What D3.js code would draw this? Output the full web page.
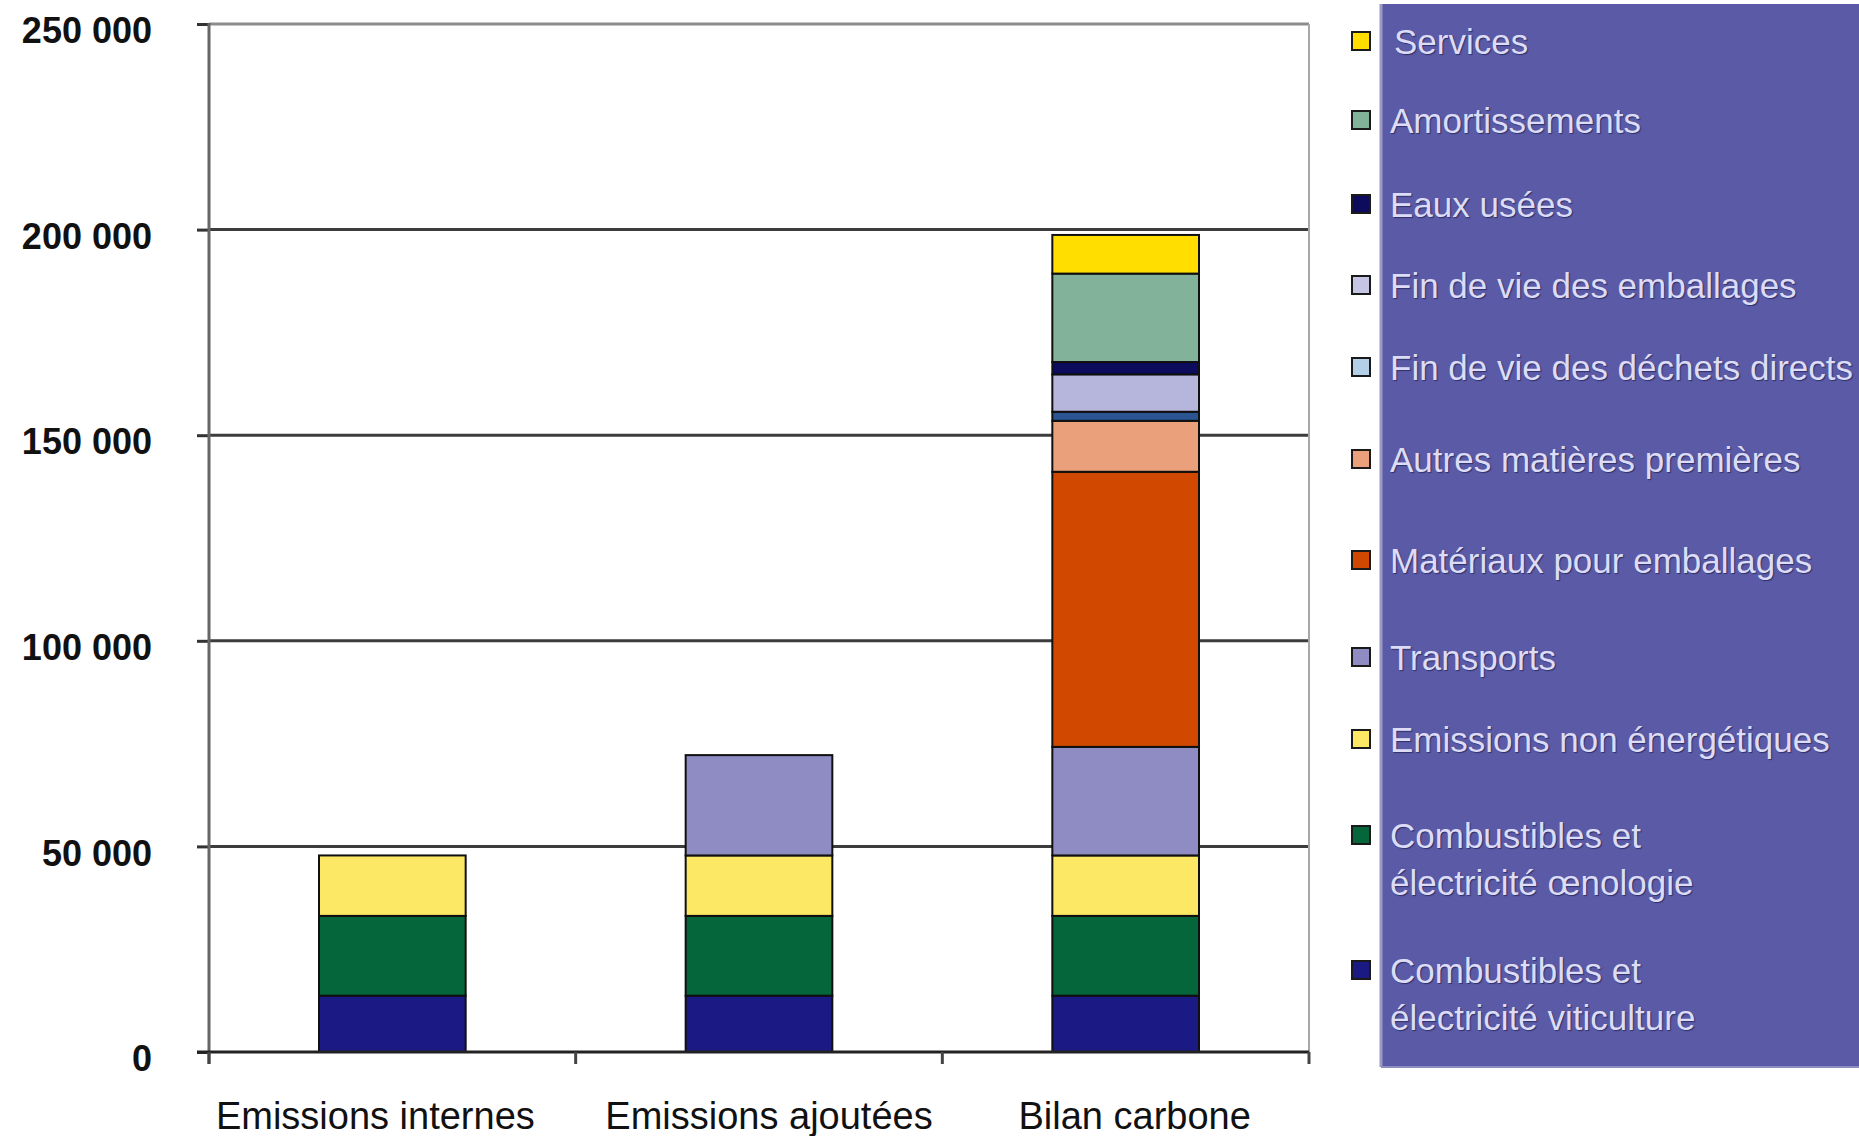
<!DOCTYPE html>
<html>
<head>
<meta charset="utf-8">
<script src="https://cdn.jsdelivr.net/npm/d3@7/dist/d3.min.js"></script>
<style>
  html, body { margin: 0; padding: 0; background: #ffffff; }
  svg { display: block; }
</style>
</head>
<body>
<script>
// ---------- DATA ----------
const categories = ["Emissions internes", "Emissions ajoutées", "Bilan carbone"];

// stacking order: bottom -> top
const seriesNames = [
  "Combustibles et\nélectricité viticulture",
  "Combustibles et\nélectricité œnologie",
  "Emissions non énergétiques",
  "Transports",
  "Matériaux pour emballages",
  "Autres matières premières",
  "Fin de vie des déchets directs",
  "Fin de vie des emballages",
  "Eaux usées",
  "Amortissements",
  "Services"
];

const combViticulture   = [13700, 13700, 13700];
const combOenologie     = [19400, 19400, 19400];
const emissionsNonEnerg = [14700, 14700, 14700];
const transports        = [0, 24400, 26400];
const materiauxEmball   = [0, 0, 66900];
const autresMatieres    = [0, 0, 12400];
const finVieDechets     = [0, 0, 2200];
const finVieEmball      = [0, 0, 9100];
const eauxUsees         = [0, 0, 3000];
const amortissements    = [0, 0, 21500];
const services          = [0, 0, 9400];

const seriesValues = [
  combViticulture, combOenologie, emissionsNonEnerg, transports, materiauxEmball,
  autresMatieres, finVieDechets, finVieEmball, eauxUsees, amortissements, services
];

// bar fills
const seriesColors = [
  "#1b1a84", "#04663a", "#fde866", "#8f8bc3", "#d14800",
  "#e9a07b", "#2a5592", "#b6b5dc", "#0c0b5c", "#82b39a", "#ffde00"
];
// legend swatches
const legendColors = [
  "#1b1a84", "#04663a", "#fde866", "#8f8bc3", "#d14800",
  "#e9a07b", "#b4d0e8", "#c6c5e4", "#0c0b5c", "#82b39a", "#ffde00"
];

const yTicks = [0, 50000, 100000, 150000, 200000, 250000];
const yTickLabels = ["0", "50 000", "100 000", "150 000", "200 000", "250 000"];

// ---------- LAYOUT ----------
const W = 1859, H = 1136;
const plot = { left: 209, right: 1309, top: 24, bottom: 1052 };
const legendBox = { x: 1381, y: 4, w: 478, h: 1063 };
const legendRowY = [41, 120, 204, 285, 367, 459, 560, 657, 739, 835, 970]; // top->bottom rows
const legendLineGap = 47;
const xLabelShift = [-17, 10, 9];

const svg = d3.select("body").append("svg")
  .attr("width", W).attr("height", H)
  .style("font-family", "'Liberation Sans', Arial, sans-serif");

svg.append("rect").attr("width", W).attr("height", H).attr("fill", "#fff");

const y = d3.scaleLinear().domain([0, 250000]).range([plot.bottom, plot.top]);
const x = d3.scaleBand().domain(categories).range([plot.left, plot.right])
  .paddingInner(0.6).paddingOuter(0.3);

// table for the stack
const table = categories.map((c, i) => {
  const row = { category: c };
  seriesNames.forEach((s, k) => { row[s] = seriesValues[k][i]; });
  return row;
});
const stacked = d3.stack().keys(seriesNames)(table);

// gridlines
svg.append("g").selectAll("line")
  .data(yTicks.filter(t => t > 0 && t < 250000))
  .join("line")
  .attr("x1", plot.left).attr("x2", plot.right)
  .attr("y1", d => y(d)).attr("y2", d => y(d))
  .attr("stroke", "#3c3c3c").attr("stroke-width", 3);

// top border
svg.append("line")
  .attr("x1", plot.left).attr("x2", plot.right)
  .attr("y1", y(250000)).attr("y2", y(250000))
  .attr("stroke", "#8c8c8c").attr("stroke-width", 3);
// right border
svg.append("line")
  .attr("x1", plot.right).attr("x2", plot.right)
  .attr("y1", y(250000)).attr("y2", y(0))
  .attr("stroke", "#a8a8a8").attr("stroke-width", 2);

// bars
const layers = svg.append("g").selectAll("g")
  .data(stacked).join("g")
  .attr("fill", (d, i) => seriesColors[i]);
layers.selectAll("rect")
  .data(d => d.map((v, i) => ({ v, cat: categories[i] })).filter(o => o.v[1] - o.v[0] > 0))
  .join("rect")
  .attr("x", o => x(o.cat))
  .attr("width", x.bandwidth())
  .attr("y", o => y(o.v[1]))
  .attr("height", o => y(o.v[0]) - y(o.v[1]))
  .attr("stroke", "#101010")
  .attr("stroke-width", 2);

// y axis
const yAxis = d3.axisLeft(y)
  .tickValues(yTicks)
  .tickFormat((d, i) => yTickLabels[i])
  .tickSize(12)
  .tickPadding(45);
const gy = svg.append("g").attr("transform", `translate(${plot.left},0)`).call(yAxis);
gy.select(".domain").remove();
gy.selectAll(".tick line").attr("stroke", "#333").attr("stroke-width", 3);
gy.selectAll(".tick text")
  .attr("fill", "#111")
  .attr("font-size", 36)
  .attr("font-weight", "bold")
  .attr("dy", "0.52em");

// y axis line
svg.append("line")
  .attr("x1", plot.left).attr("x2", plot.left)
  .attr("y1", y(250000) - 1).attr("y2", y(0) + 12)
  .attr("stroke", "#666").attr("stroke-width", 3);

// baseline
svg.append("line")
  .attr("x1", plot.left - 12).attr("x2", plot.right)
  .attr("y1", y(0)).attr("y2", y(0))
  .attr("stroke", "#222").attr("stroke-width", 3);

// x ticks at category boundaries
const boundaries = categories.map(c => x(c) + x.bandwidth() / 2 - x.step() / 2)
  .concat([x(categories[categories.length - 1]) + x.bandwidth() / 2 + x.step() / 2]);
svg.append("g").selectAll("line").data(boundaries).join("line")
  .attr("x1", d => d).attr("x2", d => d)
  .attr("y1", y(0)).attr("y2", y(0) + 12)
  .attr("stroke", "#444").attr("stroke-width", 3);

// x axis labels
const xAxis = d3.axisBottom(x).tickSize(0).tickPadding(50);
const gx = svg.append("g").attr("transform", `translate(0,${plot.bottom})`).call(xAxis);
gx.select(".domain").remove();
gx.selectAll(".tick text")
  .attr("fill", "#111")
  .attr("font-size", 38)
  .attr("dx", (d, i) => xLabelShift[i]);

// legend
svg.append("rect")
  .attr("x", legendBox.x).attr("y", legendBox.y)
  .attr("width", legendBox.w).attr("height", legendBox.h)
  .attr("fill", "#5a5aa6");
svg.append("line")
  .attr("x1", legendBox.x).attr("x2", legendBox.x)
  .attr("y1", legendBox.y).attr("y2", legendBox.y + legendBox.h)
  .attr("stroke", "#9a9ac4").attr("stroke-width", 3);
svg.append("line")
  .attr("x1", legendBox.x).attr("x2", legendBox.x + legendBox.w)
  .attr("y1", legendBox.y + legendBox.h).attr("y2", legendBox.y + legendBox.h)
  .attr("stroke", "#8e8ebe").attr("stroke-width", 2);

const legendItems = seriesNames.map((name, k) => ({ name, color: legendColors[k] })).reverse();
const lg = svg.append("g").selectAll("g").data(legendItems).join("g")
  .attr("transform", (d, i) => `translate(0,${legendRowY[i]})`);
lg.append("rect")
  .attr("x", 1352).attr("y", -9).attr("width", 18).attr("height", 18)
  .attr("fill", d => d.color)
  .attr("stroke", "#1a1a1a").attr("stroke-width", 2);
lg.each(function (d, i) {
  const lines = d.name.split("\n");
  const t = d3.select(this).append("text")
    .attr("x", i === 0 ? 1394 : 1390)
    .attr("y", 13)
    .attr("font-size", 35)
    .attr("fill", "#dcdcf6")
    .style("text-shadow", "1px 1px 1px rgba(30,30,80,0.7)");
  lines.forEach((ln, j) => {
    t.append("tspan").attr("x", i === 0 ? 1394 : 1390).attr("dy", j === 0 ? 0 : legendLineGap).text(ln);
  });
});
</script>
</body>
</html>
